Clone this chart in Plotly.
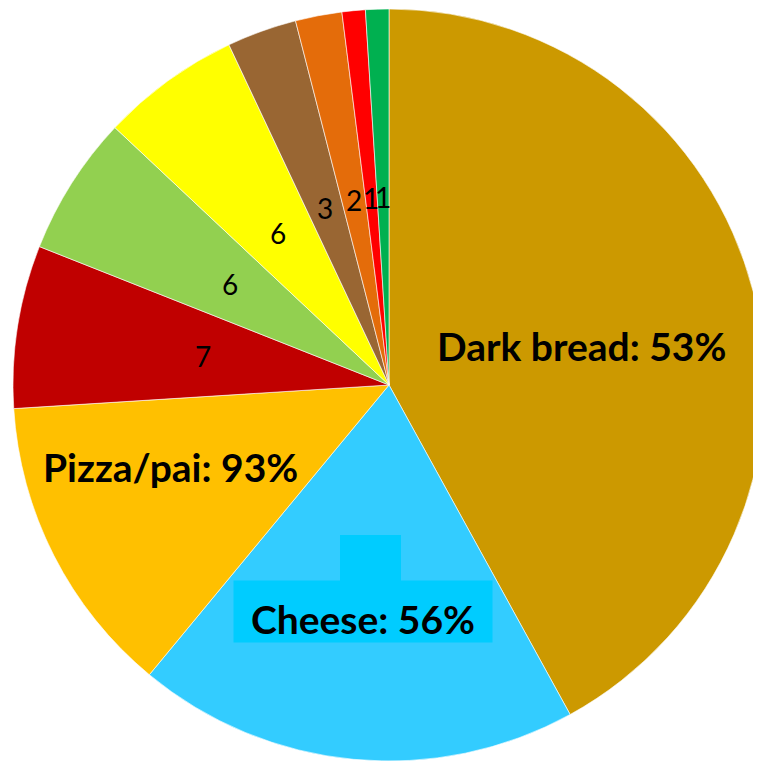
import math
import plotly.graph_objects as go

categories = ["Dark bread", "Cheese", "Pizza/pai", "Item 4", "Item 5", "Item 6",
              "Item 7", "Item 8", "Item 9", "Item 10"]
values = [42, 19, 13, 7, 6, 6, 3, 2, 1, 1]
label_texts = ["Dark bread: 53%", "Cheese: 56%", "Pizza/pai: 93%",
               "7", "6", "6", "3", "2", "1", "1"]
colors = ["#CC9900", "#33CCFF", "#FFC000", "#C00000", "#92D050", "#FFFF00",
          "#996633", "#E46C0A", "#FF0000", "#00B050"]

W = H = 761
OFF = 8  # page body margin in the browser
ML, MT = 13, 9           # desired plot-area origin in screenshot pixels
PW, PH = 752, 752
R = min(PW, PH) / 2
CX, CY = ML + PW / 2, MT + PH / 2


def to_paper(x, y):
    return (x - ML) / PW, 1 - (y - MT) / PH


fig = go.Figure(go.Pie(
    labels=categories,
    values=values,
    marker=dict(colors=colors, line=dict(color="white", width=0.6)),
    sort=False,
    direction="clockwise",
    rotation=0,
    textinfo="none",
    hoverinfo="label+value",
    showlegend=False,
))

annotations = []
shapes = []
total = sum(values)
cum = 0
big_pos = {0: (581, 346), 2: (170, 467), 1: (363, 611)}
for i, v in enumerate(values):
    mid = (cum + v / 2) / total * 360
    cum += v
    if i in big_pos:
        x, y = big_pos[i]
        xp, yp = to_paper(x, y)
        ann = dict(x=xp, y=yp, xref="paper", yref="paper", text=label_texts[i],
                   showarrow=False, xanchor="center", yanchor="middle",
                   font=dict(family="Lato", size=39, color="black", weight="bold"))
        if i == 1:
            ann.update(bgcolor="#00CCFF", width=258, height=61, borderpad=0,
                       valign="bottom")
        annotations.append(ann)
    else:
        th = math.radians(mid)
        x = CX + 0.5 * R * math.sin(th)
        y = CY - 0.5 * R * math.cos(th)
        xp, yp = to_paper(x, y)
        annotations.append(dict(x=xp, y=yp, xref="paper", yref="paper",
                                text=label_texts[i], showarrow=False,
                                xanchor="center", yanchor="middle",
                                font=dict(family="Lato", size=28, color="black")))

# tab of the Cheese label box
x0, y0 = to_paper(340, 535)
x1, y1 = to_paper(401, 582)
shapes.append(dict(type="rect", xref="paper", yref="paper", x0=x0, x1=x1,
                   y0=y1, y1=y0, fillcolor="#00CCFF", line=dict(width=0),
                   layer="above"))

fig.update_layout(
    width=W, height=H,
    margin=dict(l=ML - OFF, r=W - (ML - OFF) - PW, t=MT - OFF, b=H - (MT - OFF) - PH),
    paper_bgcolor="white",
    plot_bgcolor="white",
    annotations=annotations,
    shapes=shapes,
)

fig.write_html("out.html")
